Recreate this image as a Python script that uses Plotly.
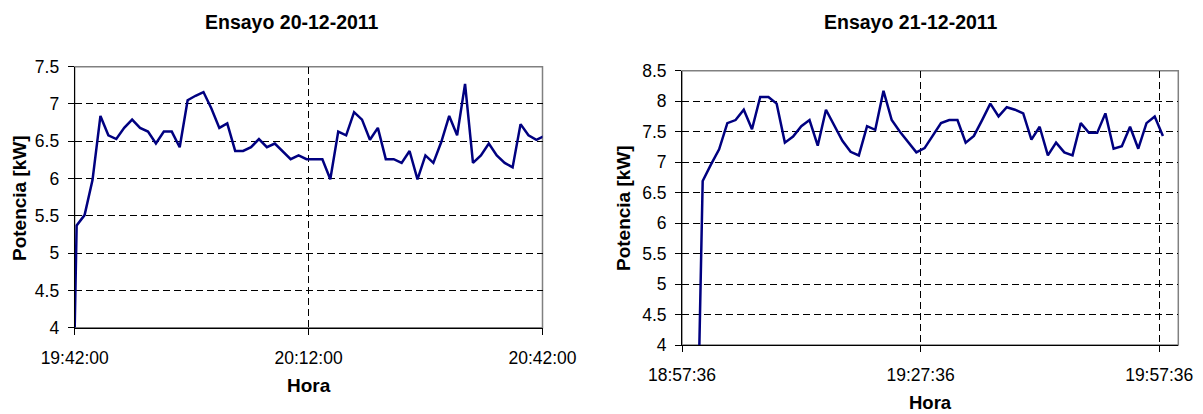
import plotly.graph_objects as go

# ---------------- Data ----------------
left_title = "Ensayo 20-12-2011"
right_title = "Ensayo 21-12-2011"
x_title = "Hora"
y_title = "Potencia [kW]"

left_date = "2011-12-20"
left_times = [
    "19:42:00", "19:42:15", "19:43:16", "19:44:17", "19:45:18", "19:46:19", "19:47:20",
    "19:48:21", "19:49:22", "19:50:23", "19:51:24", "19:52:25", "19:53:26", "19:54:27",
    "19:55:28", "19:56:29", "19:57:30", "19:58:31", "19:59:32", "20:00:33", "20:01:34",
    "20:02:35", "20:03:36", "20:04:37", "20:05:38", "20:06:39", "20:07:40", "20:08:41",
    "20:09:42", "20:10:43", "20:11:44", "20:12:45", "20:13:46", "20:14:47", "20:15:48",
    "20:16:49", "20:17:50", "20:18:51", "20:19:52", "20:20:53", "20:21:54", "20:22:55",
    "20:23:56", "20:24:57", "20:25:58", "20:26:59", "20:28:00", "20:29:01", "20:30:02",
    "20:31:03", "20:32:04", "20:33:05", "20:34:06", "20:35:07", "20:36:08", "20:37:09",
    "20:38:10", "20:39:11", "20:40:12", "20:41:13", "20:42:14",
]
left_power = [
    4.0, 5.37, 5.51, 5.98, 6.84, 6.58, 6.53, 6.68, 6.79, 6.68, 6.63, 6.47, 6.63, 6.63,
    6.42, 7.05, 7.11, 7.16, 6.94, 6.68, 6.74, 6.37, 6.37, 6.42, 6.53, 6.42, 6.47, 6.36,
    6.26, 6.31, 6.26, 6.26, 6.26, 5.99, 6.63, 6.58, 6.89, 6.79, 6.52, 6.68, 6.26, 6.26,
    6.21, 6.37, 5.99, 6.31, 6.21, 6.49, 6.84, 6.58, 7.27, 6.21, 6.31, 6.47, 6.31, 6.21,
    6.15, 6.73, 6.58, 6.52, 6.57,
]
left_xrange = ["19:42:00", "20:42:00"]
left_xticks = ["19:42:00", "20:12:00", "20:42:00"]
left_yrange = [4, 7.5]

right_date = "2011-12-21"
right_times = [
    "18:59:47", "19:00:12", "19:01:14", "19:02:16", "19:03:18", "19:04:20", "19:05:22",
    "19:06:24", "19:07:26", "19:08:28", "19:09:30", "19:10:32", "19:11:34", "19:12:36",
    "19:13:38", "19:14:40", "19:15:42", "19:16:44", "19:17:46", "19:18:48", "19:19:50",
    "19:20:52", "19:21:54", "19:22:56", "19:23:58", "19:25:00", "19:26:02", "19:27:04",
    "19:28:06", "19:29:08", "19:30:10", "19:31:12", "19:32:14", "19:33:16", "19:34:18",
    "19:35:20", "19:36:22", "19:37:24", "19:38:26", "19:39:28", "19:40:30", "19:41:32",
    "19:42:34", "19:43:36", "19:44:38", "19:45:40", "19:46:42", "19:47:44", "19:48:46",
    "19:49:48", "19:50:50", "19:51:52", "19:52:54", "19:53:56", "19:54:58", "19:56:00",
    "19:57:02", "19:58:04",
]
right_power = [
    4.0, 6.69, 6.96, 7.21, 7.64, 7.69, 7.86, 7.54, 8.07, 8.07, 7.96, 7.32, 7.42, 7.59,
    7.69, 7.27, 7.86, 7.60, 7.35, 7.17, 7.11, 7.59, 7.53, 8.17, 7.69, 7.50, 7.33, 7.16,
    7.23, 7.43, 7.64, 7.69, 7.69, 7.32, 7.43, 7.69, 7.96, 7.75, 7.90, 7.86, 7.80, 7.37,
    7.58, 7.11, 7.32, 7.16, 7.11, 7.64, 7.48, 7.48, 7.80, 7.22, 7.26, 7.58, 7.22, 7.64,
    7.75, 7.43,
]
right_xrange = ["18:57:36", "20:00:00"]
right_xticks = ["18:57:36", "19:27:36", "19:57:36"]
right_yrange = [4, 8.5]

# ---------------- Styling ----------------
W, H = 1203, 414
FONT = "Liberation Sans, Arial, sans-serif"
LINE_COLOR = "#000080"


def stamp(date, times):
    return [f"{date} {t}" for t in times]


fig = go.Figure()
fig.add_trace(go.Scatter(x=stamp(left_date, left_times), y=left_power, mode="lines",
                         line=dict(color=LINE_COLOR, width=2.5), xaxis="x", yaxis="y",
                         showlegend=False, hoverinfo="skip"))
fig.add_trace(go.Scatter(x=stamp(right_date, right_times), y=right_power, mode="lines",
                         line=dict(color=LINE_COLOR, width=2.5), xaxis="x2", yaxis="y2",
                         showlegend=False, hoverinfo="skip"))

tick_font = dict(family=FONT, size=17.5, color="black")
common_x = dict(type="date", tickformat="%H:%M:%S", showgrid=True, gridcolor="black",
                griddash="7px,4px", gridwidth=1, showline=True, linecolor="black",
                linewidth=1, ticks="outside", ticklen=6, tickcolor="black",
                zeroline=False, ticklabelstandoff=8, automargin=False,
                tickfont=tick_font, fixedrange=True)
common_y = dict(dtick=0.5, tick0=0, showgrid=True, gridcolor="black", griddash="7px,4px",
                gridwidth=1, showline=True, linecolor="black", linewidth=1,
                ticks="outside", ticklen=6, tickcolor="black", zeroline=False,
                ticklabelstandoff=5, automargin=False,
                tickfont=tick_font, fixedrange=True)

fig.update_layout(
    template="none",
    width=W, height=H,
    margin=dict(l=0, r=0, t=0, b=0, pad=0),
    paper_bgcolor="white", plot_bgcolor="white",
    xaxis=dict(common_x, domain=[74.7 / W, 542.5 / W], anchor="y",
               range=stamp(left_date, left_xrange), tickvals=stamp(left_date, left_xticks)),
    yaxis=dict(common_y, domain=[(H - 327.7) / H, (H - 66.7) / H], anchor="x",
               range=left_yrange),
    xaxis2=dict(common_x, domain=[682 / W, 1178.3 / W], anchor="y2",
                range=stamp(right_date, right_xrange), tickvals=stamp(right_date, right_xticks)),
    yaxis2=dict(common_y, domain=[(H - 345) / H, (H - 70.7) / H], anchor="x2",
                range=right_yrange),
)

# plot-area borders (gray) under the dashed grid
for xr, yr in (("x domain", "y domain"), ("x2 domain", "y2 domain")):
    fig.add_shape(type="rect", xref=xr, yref=yr, x0=0, x1=1, y0=0, y1=1,
                  line=dict(color="#808080", width=1.5), layer="below")

ann = [
    (left_title, 292, 22, 0, 19.5),
    (right_title, 911, 22, 0, 19.5),
    (x_title, 308.6, 385, 0, 19),
    (x_title, 930, 402, 0, 18.5),
    (y_title, 19, 198, -90, 19),
    (y_title, 623, 208, -90, 19),
]
for text, px, py, ang, size in ann:
    fig.add_annotation(text=f"<b>{text}</b>", xref="paper", yref="paper",
                       x=px / W, y=1 - py / H, xanchor="center", yanchor="middle",
                       showarrow=False, textangle=ang, borderpad=0,
                       font=dict(family=FONT, size=size, color="black"))

fig.write_html("out.html", config={"displayModeBar": False},
               post_script="document.body.style.margin='0px';document.body.style.overflow='hidden';")
